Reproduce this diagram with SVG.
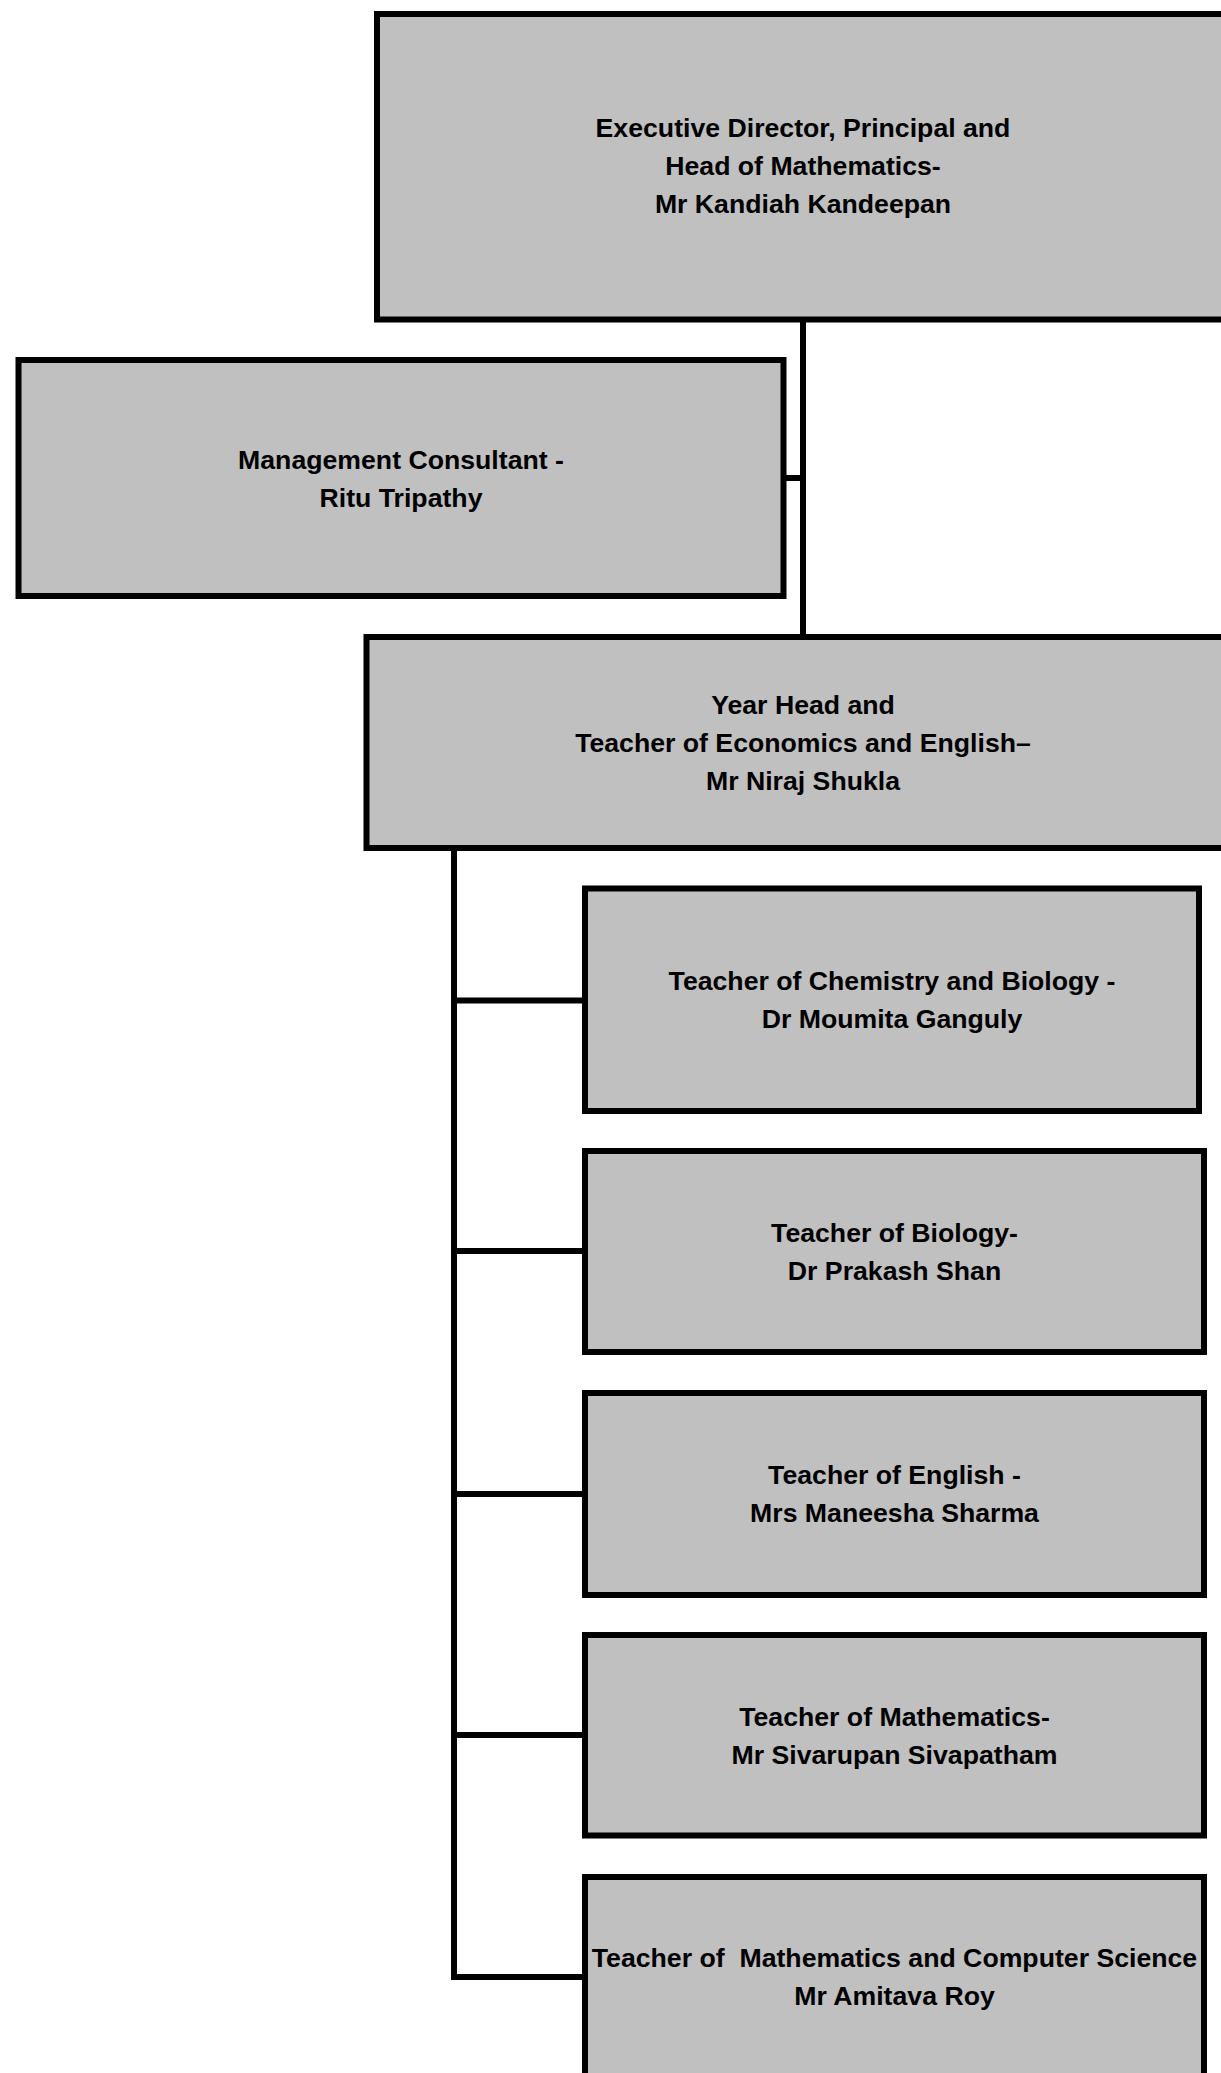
<svg xmlns="http://www.w3.org/2000/svg" width="1221" height="2073" viewBox="0 0 1221 2073">
<style>
.box{fill:#c0c0c0;stroke:#000;stroke-width:6}
.lbl{font-family:"Liberation Sans",Arial,sans-serif;font-weight:bold;font-size:26.67px;fill:#000;text-anchor:middle;white-space:pre}
.conn{fill:none;stroke:#000;stroke-width:6}
</style>
<rect width="1221" height="2073" fill="#fff"/>
<g id="connectors">
<line class="conn" x1="803" y1="319" x2="803" y2="637"/>
<line class="conn" x1="783.5" y1="478" x2="803" y2="478"/>
<line class="conn" x1="454" y1="848" x2="454" y2="1980"/>
<line class="conn" x1="454" y1="1000.5" x2="585" y2="1000.5"/>
<line class="conn" x1="454" y1="1251" x2="585" y2="1251"/>
<line class="conn" x1="454" y1="1494" x2="585" y2="1494"/>
<line class="conn" x1="454" y1="1735" x2="585" y2="1735"/>
<line class="conn" x1="451" y1="1977" x2="585" y2="1977"/>
</g>
<g id="director">
<rect class="box" x="377" y="14" width="860" height="305.5"/>
<text class="lbl" x="803" y="137">Executive Director, Principal and</text>
<text class="lbl" x="803" y="175">Head of Mathematics-</text>
<text class="lbl" x="803" y="213">Mr Kandiah Kandeepan</text>
</g>
<g id="consultant">
<rect class="box" x="18.5" y="360" width="765" height="236"/>
<text class="lbl" x="401" y="469">Management Consultant -</text>
<text class="lbl" x="401" y="507">Ritu Tripathy</text>
</g>
<g id="yearhead">
<rect class="box" x="366.5" y="637" width="870" height="211"/>
<text class="lbl" x="803" y="714">Year Head and</text>
<text class="lbl" x="803" y="752">Teacher of Economics and English–</text>
<text class="lbl" x="803" y="790">Mr Niraj Shukla</text>
</g>
<g id="chemistry">
<rect class="box" x="585" y="888.5" width="614" height="222.5"/>
<text class="lbl" x="892" y="990">Teacher of Chemistry and Biology -</text>
<text class="lbl" x="892" y="1028">Dr Moumita Ganguly</text>
</g>
<g id="biology">
<rect class="box" x="585" y="1151" width="619" height="201"/>
<text class="lbl" x="894.5" y="1242">Teacher of Biology-</text>
<text class="lbl" x="894.5" y="1280">Dr Prakash Shan</text>
</g>
<g id="english">
<rect class="box" x="585" y="1393" width="619" height="202"/>
<text class="lbl" x="894.5" y="1484">Teacher of English -</text>
<text class="lbl" x="894.5" y="1522">Mrs Maneesha Sharma</text>
</g>
<g id="maths">
<rect class="box" x="585" y="1635" width="619" height="200.5"/>
<text class="lbl" x="894.5" y="1726">Teacher of Mathematics-</text>
<text class="lbl" x="894.5" y="1764">Mr Sivarupan Sivapatham</text>
</g>
<g id="computing">
<rect class="box" x="585" y="1877" width="619" height="201"/>
<text class="lbl" x="894.5" y="1967">Teacher of  Mathematics and Computer Science</text>
<text class="lbl" x="894.5" y="2005">Mr Amitava Roy</text>
</g>
</svg>
